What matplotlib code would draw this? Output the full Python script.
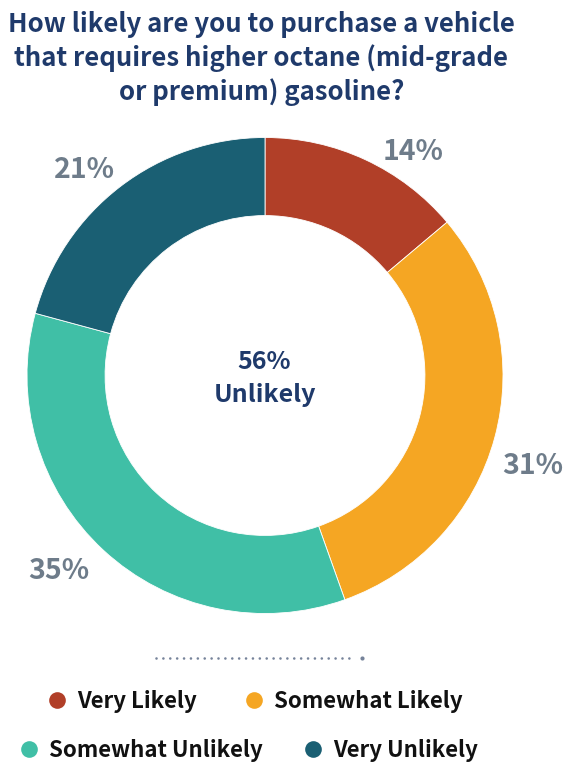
import numpy as np
import matplotlib
matplotlib.use("Agg")
import matplotlib.pyplot as plt

# --- data -------------------------------------------------------------
categories = ["Very Likely", "Somewhat Likely", "Somewhat Unlikely", "Very Unlikely"]
shares = [14, 31, 35, 21]
center_value = "56%"
center_label = "Unlikely"
title_lines = ["How likely are you to purchase a vehicle",
               "that requires higher octane (mid-grade",
               "or premium) gasoline?"]

# --- style ------------------------------------------------------------
colors = ["#B13F28", "#F5A623", "#40BFA6", "#1A5F73"]
navy = "#1F3A6B"
grey = "#6E7C8A"
FONT = ["Noto Sans CJK SC", "DejaVu Sans"]
plt.rcParams["font.family"] = FONT

W, H = 571, 763
fig = plt.figure(figsize=(W / 100, H / 100), dpi=100)
fig.patch.set_facecolor("white")

def fx(px):
    return px / W

def fy(py):
    return 1 - py / H

# donut axes: centre (265, 375.5) px, outer radius 238 px
cx, cy, R = 265, 375.5, 238
span = 1.35
size = 2 * span * R
ax = fig.add_axes([fx(cx - size / 2), fy(cy + size / 2), size / W, size / H])
ax.pie(shares, colors=colors, startangle=90, counterclock=False, radius=1.0,
       wedgeprops=dict(width=1 - 0.672, edgecolor="white", linewidth=0.6))
ax.set_xlim(-span, span)
ax.set_ylim(-span, span)
ax.set_aspect("equal")
ax.axis("off")

# pixel-space overlay for text and legend
ov = fig.add_axes([0, 0, 1, 1], facecolor="none")
ov.set_xlim(0, W)
ov.set_ylim(H, 0)
ov.axis("off")

# percentage labels outside the ring
label_nudge = [8.3, 3.0, 4.1, -3.6]     # degrees, clockwise
label_radius = [1.134, 1.183, 1.185, 1.157]
cum = np.cumsum([0] + shares[:-1])
total = sum(shares)
for i, v in enumerate(shares):
    a = np.deg2rad((cum[i] + v / 2) / total * 360 + label_nudge[i])
    r = label_radius[i] * R
    ov.text(cx + r * np.sin(a), cy - r * np.cos(a) + 10.5, f"{v}%",
            ha="center", va="baseline", fontsize=20.5, fontweight="bold",
            color=grey)

# centre text
ov.text(264, 369, center_value, ha="center", va="baseline", fontsize=18,
        fontweight="bold", color=navy)
ov.text(265, 402, center_label, ha="center", va="baseline", fontsize=18,
        fontweight="bold", color=navy)

# title
for line, base in zip(title_lines, [32, 66, 100]):
    ov.text(261.5, base, line, ha="center", va="baseline", fontsize=18.5,
            fontweight="bold", color=navy)

# dotted separator
ov.plot([156, 353], [657.5, 657.5], linestyle=(0, (0.01, 2.6)),
        color="#76839A", linewidth=1.9, dash_capstyle="round")
ov.plot([362], [657.5], marker="o", markersize=3.0, color="#76839A",
        markeredgewidth=0)

# legend
legend_pos = [(57, 700), (254, 700), (29, 749), (313, 749)]
for (lx, ly), c, name in zip(legend_pos, colors, categories):
    ov.plot([lx], [ly], marker="o", markersize=12, color=c, markeredgewidth=0)
    ov.text(lx + 20, ly + 8, name, ha="left", va="baseline", fontsize=16,
            fontweight="bold", color="#111111")

fig.savefig("out.png", dpi=100, facecolor="white")
